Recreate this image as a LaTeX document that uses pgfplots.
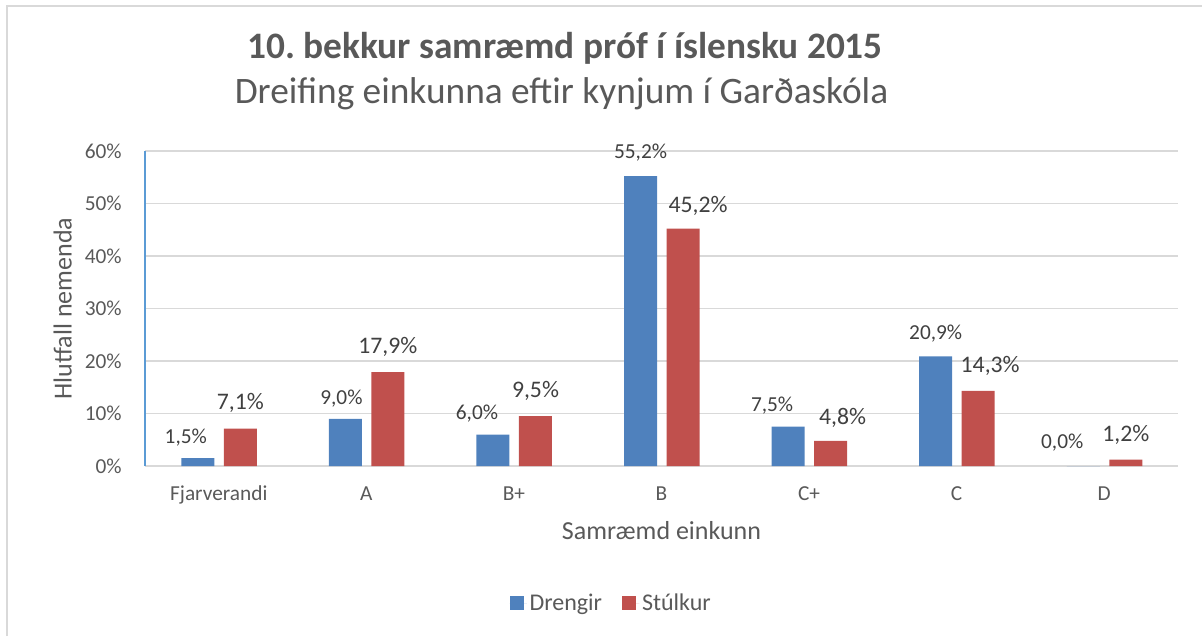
\documentclass[border=0pt]{standalone}
\usepackage{fontspec}
\setmainfont{Carlito}
\usepackage{pgfplots}
\usepackage{pgfplotstable}
\pgfplotsset{compat=1.18}
\definecolor{Blue}{HTML}{4F81BD}
\definecolor{Red}{HTML}{C0504D}
\definecolor{AxBlue}{HTML}{5B9BD5}
\definecolor{GridGray}{HTML}{D9D9D9}
\definecolor{TxtGray}{HTML}{595959}
\definecolor{LblGray}{HTML}{404040}
\frenchspacing

% x = category index, y = percent
\pgfplotstableread{
x y
0 1.5
1 9.0
2 6.0
3 55.2
4 7.5
5 20.9
6 0.0
}\drengir
\pgfplotstableread{
x y
0 7.1
1 17.9
2 9.5
3 45.2
4 4.8
5 14.3
6 1.2
}\stulkur
% label offsets (px) for each bar, as placed in the original
\def\dxA{{-12,-4,-16,0,-16,0,-21}}
\def\dyA{{15,14,15,18,15,17,18}}
\def\dxB{{0,0,0,15,12,12,0}}
\def\dyB{{19,19,19,16,16,18,18}}

\begin{document}
\begin{tikzpicture}
\useasboundingbox (0,0) rectangle (901.5pt,477pt);
\draw[GridGray,line width=1.5pt] (5.25pt,0) -- (5.25pt,472.5pt) -- (901.5pt,472.5pt);
\node[anchor=base,text=TxtGray,font=\fontsize{28}{32}\selectfont\bfseries,inner sep=0pt]
  at (423.75pt,432.75pt) {10. bekkur samræmd próf í íslensku 2015};
\node[anchor=base,text=TxtGray,font=\fontsize{28}{32}\selectfont,inner sep=0pt]
  at (421.1pt,399pt) {Dreifing einkunna eftir kynjum í Garðaskóla};
\begin{axis}[
  at={(108.75pt,127.5pt)},anchor=south west,
  scale only axis,width=774.75pt,height=236.25pt,
  ybar,
  xmin=-0.5,xmax=6.5,ymin=0,ymax=60,
  xtick={0,...,6},
  xticklabels={Fjarverandi,A,B+,B,C+,C,D},
  ytick={0,10,...,60},
  yticklabel={\pgfmathprintnumber{\tick}\%},
  /pgf/number format/assume math mode=true,
  major tick length=0pt,
  axis x line*=bottom,axis y line*=left,
  x axis line style={draw=GridGray,line width=1.1pt,-},
  y axis line style={draw=AxBlue,line width=1pt,-},
  ymajorgrids,grid style={GridGray,line width=1.1pt},
  tick label style={text=TxtGray,font=\fontsize{16}{19}\selectfont,inner sep=0pt},
  yticklabel style={anchor=east,xshift=-17.25pt},
  xticklabel style={anchor=base,yshift=-25.5pt},
  xlabel={Samræmd einkunn},
  ylabel={Hlutfall nemenda},
  label style={text=TxtGray,font=\fontsize{19.5}{23}\selectfont,inner sep=0pt},
  xlabel style={at={(axis description cs:0.5,0)},anchor=base,yshift=-54.75pt},
  ylabel style={at={(axis description cs:-0.071,0.5)},anchor=base},
  bar width=0.2236,
  legend style={at={(axis description cs:0.4516,-0.435)},anchor=center,
    draw=none,fill=none,font=\fontsize{18}{21}\selectfont,text=TxtGray,
    legend columns=2,
    /tikz/every even column/.append style={column sep=13pt}},
  legend image code/.code={%
    \path (0pt,0pt) -- (13pt,0pt);
    \fill[#1] (0pt,-5.25pt) rectangle (10.5pt,5.25pt);},
]
\addplot[fill=Blue,draw=none,bar shift=-0.142,
  visualization depends on={\coordindex \as \ci},
  nodes near coords={\pgfmathprintnumber[fixed,fixed zerofill,precision=1,use comma]{\pgfplotspointmeta}\%},
  nodes near coords style={anchor=base,inner sep=0pt,text=LblGray,
    font=\fontsize{16}{19}\selectfont,
    xshift={\dxA[\ci]*0.75pt},yshift={\dyA[\ci]*0.75pt}}]
  table[x=x,y=y] {\drengir};
\addlegendentry{Drengir}
\addplot[fill=Red,draw=none,bar shift=0.146,
  visualization depends on={\coordindex \as \ci},
  nodes near coords={\pgfmathprintnumber[fixed,fixed zerofill,precision=1,use comma]{\pgfplotspointmeta}\%},
  nodes near coords style={anchor=base,inner sep=0pt,text=LblGray,
    font=\fontsize{17.8}{21}\selectfont,
    xshift={\dxB[\ci]*0.75pt},yshift={\dyB[\ci]*0.75pt}}]
  table[x=x,y=y] {\stulkur};
\addlegendentry{Stúlkur}
\end{axis}
\end{tikzpicture}
\end{document}
